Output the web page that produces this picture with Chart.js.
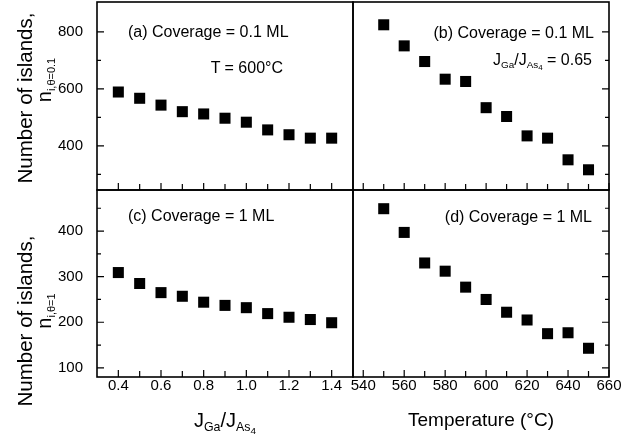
<!DOCTYPE html>
<html>
<head>
<meta charset="utf-8">
<script src="https://cdn.jsdelivr.net/npm/chart.js@4.4.0/dist/chart.umd.min.js"></script>
<style>
  html, body { margin: 0; padding: 0; background: #fff; }
  #wrap { position: relative; width: 622px; height: 441px; overflow: hidden; background: #fff;
          font-family: "Liberation Sans", Arial, Helvetica, sans-serif; color: #000; }
  #wrap canvas { position: absolute; left: 0; top: 0; }
  .t { position: absolute; white-space: nowrap; font-size: 16px; line-height: 16px; }
  .rot { position: absolute; white-space: nowrap; transform: translate(-50%, -50%) rotate(-90deg); line-height: 20px; }
  sub { font-size: 0.62em; vertical-align: -0.35em; line-height: 0; }
  sub sub { font-size: 0.8em; vertical-align: -0.3em; }
</style>
</head>
<body>
<div id="wrap">
  <canvas id="cTL" width="622" height="441"></canvas>
  <canvas id="cTR" width="622" height="441"></canvas>
  <canvas id="cBL" width="622" height="441"></canvas>
  <canvas id="cBR" width="622" height="441"></canvas>

  <div class="rot" style="left:25px; top:98px; font-size:20.5px;">Number of islands,</div>
  <div class="rot" style="left:44px; top:80px; font-size:20px;">n<sub style="font-size:11px;">i,θ=0.1</sub></div>
  <div class="rot" style="left:25px; top:321px; font-size:20.5px;">Number of islands,</div>
  <div class="rot" style="left:44px; top:311px; font-size:20px;">n<sub style="font-size:11px;">i,θ=1</sub></div>

  <div class="t" style="left:128px; top:24px;">(a) Coverage = 0.1 ML</div>
  <div class="t" style="right:339px; top:60px;">T = 600°C</div>
  <div class="t" style="right:28px; top:25px;">(b) Coverage = 0.1 ML</div>
  <div class="t" style="right:30px; top:52px;">J<sub>Ga</sub>/J<sub>As<sub>4</sub></sub> = 0.65</div>
  <div class="t" style="left:128px; top:208px;">(c) Coverage = 1 ML</div>
  <div class="t" style="right:30px; top:209px;">(d) Coverage = 1 ML</div>

  <div class="t" style="left:225px; top:410px; font-size:20px; line-height:20px; transform:translateX(-50%);">J<sub>Ga</sub>/J<sub>As<sub>4</sub></sub></div>
  <div class="t" style="left:481px; top:410px; font-size:19px; line-height:19px; transform:translateX(-50%);">Temperature (°C)</div>
</div>
<script>
// ---- data ----
const fluxRatio = [0.4, 0.5, 0.6, 0.7, 0.8, 0.9, 1.0, 1.1, 1.2, 1.3, 1.4];
const islandsA = [589, 567, 543, 520, 512, 497, 483, 456, 439, 427, 427];
const islandsC = [309, 285, 265, 257, 244, 237, 232, 219, 211, 206, 199];

const temperature = [550, 560, 570, 580, 590, 600, 610, 620, 630, 640, 650];
const islandsB = [825, 751, 696, 634, 626, 534, 503, 435, 427, 351, 316];
const islandsD = [449, 397, 330, 312, 277, 250, 222, 205, 175, 177, 143];

const fluxTicks = [0.4, 0.6, 0.8, 1.0, 1.2, 1.4];
const fluxMinor = [0.5, 0.7, 0.9, 1.1, 1.3];
const tempTicks = [540, 560, 580, 600, 620, 640, 660];
const tempMinor = [550, 570, 590, 610, 630, 650];
const topYTicks = [400, 600, 800];
const topYMinor = [300, 500, 700];
const botYTicks = [100, 200, 300, 400];
const botYMinor = [150, 250, 350, 450];

const FONT = '"Liberation Sans", Arial, Helvetica, sans-serif';

const frameTicks = {
  id: 'frameTicks',
  afterDraw(chart, args, o) {
    const ctx = chart.ctx, a = chart.chartArea;
    const xs = chart.scales.x, ys = chart.scales.y;
    ctx.save();
    ctx.strokeStyle = '#000';
    ctx.lineWidth = 1.2;
    ctx.beginPath();
    o.xMajor.forEach(v => { const p = xs.getPixelForValue(v); ctx.moveTo(p, a.bottom); ctx.lineTo(p, a.bottom - 7); });
    o.xMinor.forEach(v => { const p = xs.getPixelForValue(v); ctx.moveTo(p, a.bottom); ctx.lineTo(p, a.bottom - 6); });
    const side = o.ySide === 'left' ? a.left : a.right;
    const dir = o.ySide === 'left' ? 1 : -1;
    o.yMajor.forEach(v => { const p = ys.getPixelForValue(v); ctx.moveTo(side, p); ctx.lineTo(side + dir * 7, p); });
    o.yMinor.forEach(v => { const p = ys.getPixelForValue(v); ctx.moveTo(side, p); ctx.lineTo(side + dir * 4, p); });
    ctx.stroke();
    ctx.lineWidth = 1.6;
    ctx.strokeRect(a.left, a.top, a.right - a.left, a.bottom - a.top);
    ctx.restore();
  }
};

function panel(id, xv, yv, cfg) {
  const [L, T, R, B] = cfg.area;
  const axisH = 22;
  new Chart(document.getElementById(id), {
    type: 'scatter',
    data: { datasets: [{
      data: xv.map((x, i) => ({ x: x, y: yv[i] })),
      pointStyle: 'rect', pointRadius: 7.8, pointHoverRadius: 7.8,
      backgroundColor: '#000', borderColor: '#000', borderWidth: 0
    }]},
    options: {
      responsive: false, animation: false, devicePixelRatio: 1,
      layout: { autoPadding: false, padding: {
        left: cfg.showY ? 0 : L,
        top: T,
        right: 622 - R,
        bottom: cfg.showX ? 441 - B - axisH : 441 - B
      }},
      plugins: { legend: { display: false }, tooltip: { enabled: false }, frameTicks: cfg.ticks },
      scales: {
        x: {
          type: 'linear', min: cfg.xMin, max: cfg.xMax, display: cfg.showX,
          afterBuildTicks: s => { s.ticks = cfg.xTicks.map(v => ({ value: v })); },
          afterFit: s => { s.height = cfg.showX ? axisH : 0; s.paddingLeft = 0; s.paddingRight = 0; },
          grid: { display: false, drawTicks: false },
          border: { display: false },
          ticks: { color: '#000', font: { family: FONT, size: 15 }, padding: 0, maxRotation: 0, autoSkip: false,
                   callback: v => cfg.xFmt(v) }
        },
        y: {
          type: 'linear', min: cfg.yMin, max: cfg.yMax, display: cfg.showY, position: 'left',
          afterBuildTicks: s => { s.ticks = cfg.yTicks.map(v => ({ value: v })); },
          afterFit: s => { s.width = cfg.showY ? L : 0; s.paddingTop = 0; s.paddingBottom = 0; },
          grid: { display: false, drawTicks: false },
          border: { display: false },
          ticks: { color: '#000', font: { family: FONT, size: 15 }, padding: 14, autoSkip: false,
                   callback: v => String(v) }
        }
      }
    },
    plugins: [frameTicks]
  });
}

const fmt1 = v => Number(v).toFixed(1);
const fmt0 = v => String(v);

panel('cTL', fluxRatio, islandsA, {
  area: [97, 2, 353, 190], showX: false, showY: true,
  xMin: 0.3, xMax: 1.5, yMin: 245, yMax: 905, xTicks: fluxTicks, yTicks: topYTicks, xFmt: fmt1,
  ticks: { xMajor: fluxTicks, xMinor: fluxMinor, yMajor: topYTicks, yMinor: topYMinor, ySide: 'left' }
});
panel('cTR', temperature, islandsB, {
  area: [353, 2, 609, 190], showX: false, showY: false,
  xMin: 535, xMax: 660, yMin: 245, yMax: 905, xTicks: tempTicks, yTicks: topYTicks, xFmt: fmt0,
  ticks: { xMajor: tempTicks, xMinor: tempMinor, yMajor: topYTicks, yMinor: topYMinor, ySide: 'right' }
});
panel('cBL', fluxRatio, islandsC, {
  area: [97, 190, 353, 377], showX: true, showY: true,
  xMin: 0.3, xMax: 1.5, yMin: 80, yMax: 490, xTicks: fluxTicks, yTicks: botYTicks, xFmt: fmt1,
  ticks: { xMajor: fluxTicks, xMinor: fluxMinor, yMajor: botYTicks, yMinor: botYMinor, ySide: 'left' }
});
panel('cBR', temperature, islandsD, {
  area: [353, 190, 609, 377], showX: true, showY: false,
  xMin: 535, xMax: 660, yMin: 80, yMax: 490, xTicks: tempTicks, yTicks: botYTicks, xFmt: fmt0,
  ticks: { xMajor: tempTicks, xMinor: tempMinor, yMajor: botYTicks, yMinor: botYMinor, ySide: 'right' }
});
</script>
</body>
</html>
